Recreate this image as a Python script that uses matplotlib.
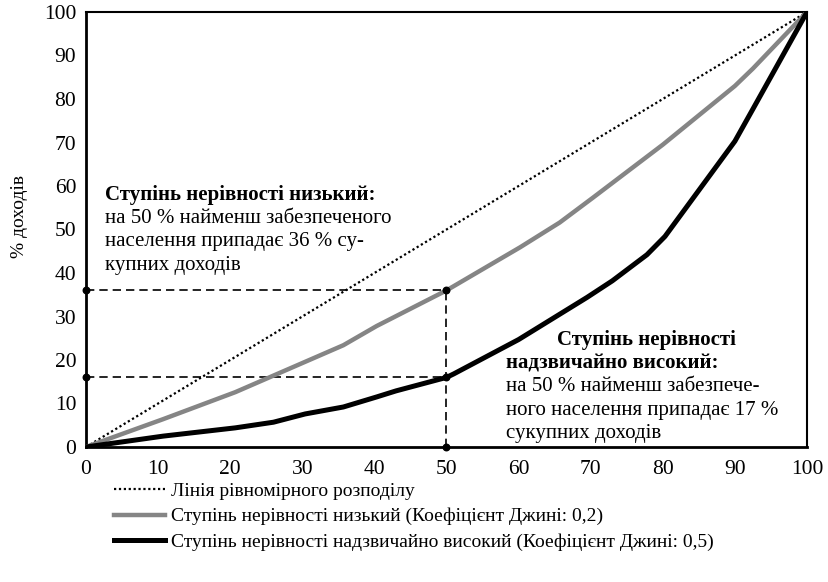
import matplotlib
matplotlib.use("Agg")
import matplotlib.pyplot as plt
from matplotlib.lines import Line2D

plt.rcParams['font.family'] = ['Liberation Serif', 'DejaVu Serif']

# Data
equal_x = [0, 100]
equal_y = [0, 100]

low_x = [0, 10.7, 20.7, 35.7, 40.3, 50, 60.2, 65.7, 70.3, 80, 90, 92.5, 100]
low_y = [0, 6.4, 12.6, 23.4, 27.8, 36, 45.9, 51.6, 57.3, 69.5, 83, 87, 100]

high_x = [0, 10.7, 20.7, 26, 30.4, 35.7, 40.3, 43, 50, 51, 60, 69.5, 73, 77.8, 80.3, 90, 92.5, 100]
high_y = [0, 2.5, 4.4, 5.7, 7.6, 9.2, 11.5, 12.9, 16, 16.8, 24.7, 34.4, 38.2, 44.2, 48.4, 70.3, 77.7, 100]

ref_x = 50
ref_low = 36
ref_high = 16

xticks = [0, 10, 20, 30, 40, 50, 60, 70, 80, 90, 100]
yticks = [0, 10, 20, 30, 40, 50, 60, 70, 80, 90, 100]

legend_labels = ["Лінія рівномірного розподілу",
                 "Ступінь нерівності низький (Коефіцієнт Джині: 0,2)",
                 "Ступінь нерівності надзвичайно високий (Коефіцієнт Джині: 0,5)"]

fig = plt.figure(figsize=(8.29, 5.82), dpi=100)
ax = fig.add_axes([86/829, 1 - 447/582, (807-86)/829, (447-12)/582])

# reference dashed lines
ax.plot([0, ref_x], [ref_low, ref_low], ls=(0, (5, 3)), color='black', lw=1.2, zorder=2)
ax.plot([0, ref_x], [ref_high, ref_high], ls=(0, (5, 3)), color='black', lw=1.2, zorder=2)
ax.plot([ref_x, ref_x], [0, ref_low], ls=(0, (5, 3)), color='black', lw=1.2, zorder=2)

l1, = ax.plot(equal_x, equal_y, color='black', lw=1.6, ls=(0, (1, 1.2)), zorder=3)
l2, = ax.plot(low_x, low_y, color='#858585', lw=3.2, zorder=4, solid_joinstyle='round')
l3, = ax.plot(high_x, high_y, color='black', lw=3.6, zorder=4, solid_joinstyle='round')

ax.scatter([0, 0, ref_x, ref_x, ref_x], [ref_low, ref_high, ref_low, ref_high, 0],
           s=22, color='black', zorder=6, clip_on=False)

ax.set_xlim(0, 100)
ax.set_ylim(0, 100)
ax.set_xticks(xticks)
ax.set_yticks(yticks)
ax.tick_params(length=0, labelsize=15.5)
ax.tick_params(axis='x', pad=9)
ax.tick_params(axis='y', pad=7)
for s in ax.spines.values():
    s.set_linewidth(1.5)
ax.spines['left'].set_linewidth(2)
ax.spines['bottom'].set_linewidth(2)

fig.text(20/829, 1 - 217/582, "% доходів", rotation=90, va='center', ha='center', fontsize=14)

fs = 15
ax.text(2.6, 58, "Ступінь нерівності низький:", fontsize=fs, fontweight='bold', va='center')
ax.text(2.6, 52.6, "на 50 % найменш забезпеченого", fontsize=fs, va='center')
ax.text(2.6, 47.2, "населення припадає 36 % су-", fontsize=fs, va='center')
ax.text(2.6, 41.8, "купних доходів", fontsize=fs, va='center')

ax.text(65.3, 24.6, "Ступінь нерівності", fontsize=fs, fontweight='bold', va='center')
ax.text(58.3, 19.3, "надзвичайно високий:", fontsize=fs, fontweight='bold', va='center')
ax.text(58.3, 13.9, "на 50 % найменш забезпече-", fontsize=fs, va='center')
ax.text(58.3, 8.5, "ного населення припадає 17 %", fontsize=fs, va='center')
ax.text(58.3, 3.1, "сукупних доходів", fontsize=fs, va='center')

handles = [Line2D([], [], color='black', lw=1.6, ls=(0, (1, 1.2))),
           Line2D([], [], color='#858585', lw=3.2),
           Line2D([], [], color='black', lw=3.6)]
fig.legend(handles, legend_labels, loc='upper left', bbox_to_anchor=(114/829, 1 - 482/582),
           frameon=False, fontsize=14, handlelength=2.6, handletextpad=0.35,
           labelspacing=0.42, borderpad=0, borderaxespad=0)

fig.savefig("out.png", dpi=100)
